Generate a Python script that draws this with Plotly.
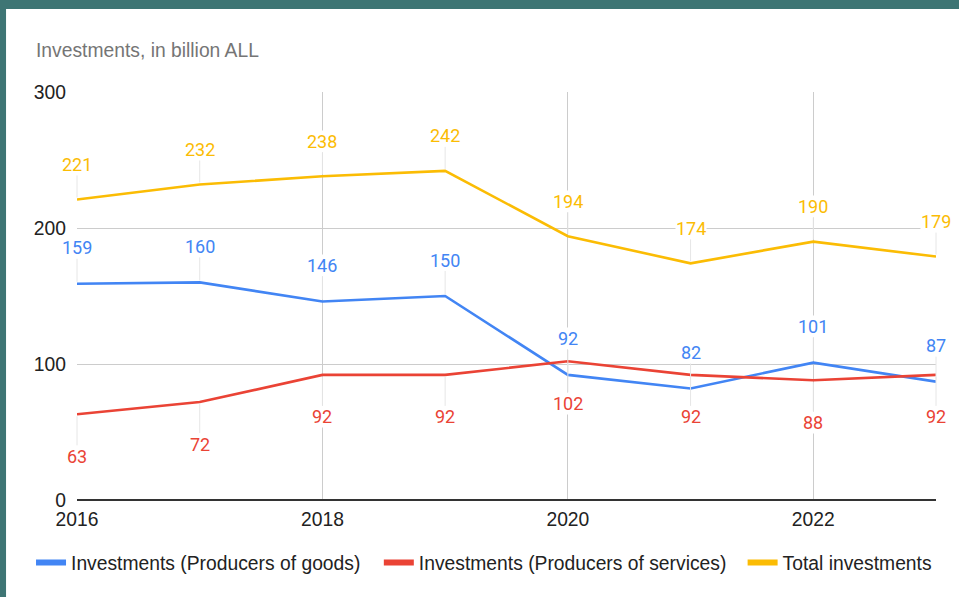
import plotly.graph_objects as go

# Investment series, billion ALL
years = [2016, 2017, 2018, 2019, 2020, 2021, 2022, 2023]
goods = [159, 160, 146, 150, 92, 82, 101, 87]
services = [63, 72, 92, 92, 102, 92, 88, 92]
total = [221, 232, 238, 242, 194, 174, 190, 179]

series_names = [
    "Investments (Producers of goods)",
    "Investments (Producers of services)",
    "Total investments",
]
y_ticks = [0, 100, 200, 300]
x_ticks = [2016, 2018, 2020, 2022]

BLUE = "#4285f4"
RED = "#ea4335"
YELLOW = "#fbbc04"
TEAL = "#3e7574"
FONT = "Liberation Sans, Arial, sans-serif"
LABEL_FONT = "Roboto, Arial, sans-serif"
FS = 19.3

W, H = 959, 597
L, R, T, B = 77, 22.5, 92, 97
PW, PH = W - L - R, H - T - B


def px_x(px):
    return (px - L) / PW


def px_y(py):
    return (H - B - py) / PH


fig = go.Figure()

# (name, values, colour, label offset in px, legend id, legend left px)
series = [
    (series_names[0], goods, BLUE, -36, "legend", 31),
    (series_names[1], services, RED, 42, "legend2", 379),
    (series_names[2], total, YELLOW, -35, "legend3", 743),
]

legend_layouts = {}
for name, vals, color, offset, leg, leg_x in series:
    fig.add_trace(go.Scatter(
        x=years, y=vals, mode="lines", name=name,
        line=dict(color=color, width=2.6),
        showlegend=False, hoverinfo="skip",
    ))
    # thicker swatch for the legend entry
    fig.add_trace(go.Scatter(
        x=[None], y=[None], mode="lines", name=name,
        line=dict(color=color, width=6), legend=leg,
    ))
    legend_layouts[leg] = dict(
        orientation="h", x=px_x(leg_x), xanchor="left",
        y=px_y(563), yanchor="middle", bgcolor="rgba(0,0,0,0)",
        font=dict(family=FONT, size=FS, color="#222222"), itemwidth=30,
    )
    # value labels with faint leader lines back to the point
    for xv, yv in zip(years, vals):
        fig.add_annotation(
            x=xv, y=yv, xref="x", yref="y", text=str(yv),
            showarrow=True, arrowhead=0, arrowwidth=1, arrowcolor="#e6e6e6",
            ax=0, ay=offset, standoff=2, bgcolor="white", borderpad=0,
            font=dict(family=LABEL_FONT, size=18, color=color),
        )

# teal frame strips on the left and top edges
fig.add_shape(type="rect", xref="paper", yref="paper", layer="below",
              x0=px_x(-2), x1=px_x(6), y0=px_y(H + 2), y1=px_y(-2),
              fillcolor=TEAL, line=dict(width=0))
fig.add_shape(type="rect", xref="paper", yref="paper", layer="below",
              x0=px_x(-2), x1=px_x(W + 2), y0=px_y(9), y1=px_y(-2),
              fillcolor=TEAL, line=dict(width=0))

fig.update_layout(
    width=W, height=H,
    margin=dict(l=L, r=R, t=T, b=B),
    paper_bgcolor="white", plot_bgcolor="white",
    font=dict(family=FONT, size=FS, color="#222222"),
    title=dict(
        text="Investments, in billion ALL",
        x=36 / W, xanchor="left", y=1 - 50 / H, yanchor="middle",
        xref="container", yref="container",
        font=dict(family=FONT, size=FS, color="#757575"),
    ),
    xaxis=dict(
        range=[2016, 2023], tickvals=x_ticks, ticktext=[str(v) for v in x_ticks],
        showgrid=True, gridcolor="#cccccc", gridwidth=1,
        zeroline=False, showline=False, ticks="", ticklabelstandoff=6,
        tickfont=dict(family=FONT, size=FS, color="#222222"),
    ),
    yaxis=dict(
        range=[0, 300], tickvals=y_ticks, ticktext=[str(v) for v in y_ticks],
        showgrid=True, gridcolor="#cccccc", gridwidth=1,
        zeroline=True, zerolinecolor="#333333", zerolinewidth=1.6,
        showline=False, ticks="", ticklabelstandoff=10,
        tickfont=dict(family=FONT, size=FS, color="#222222"),
    ),
    showlegend=True,
    **legend_layouts,
)

fig.write_html("out.html")
